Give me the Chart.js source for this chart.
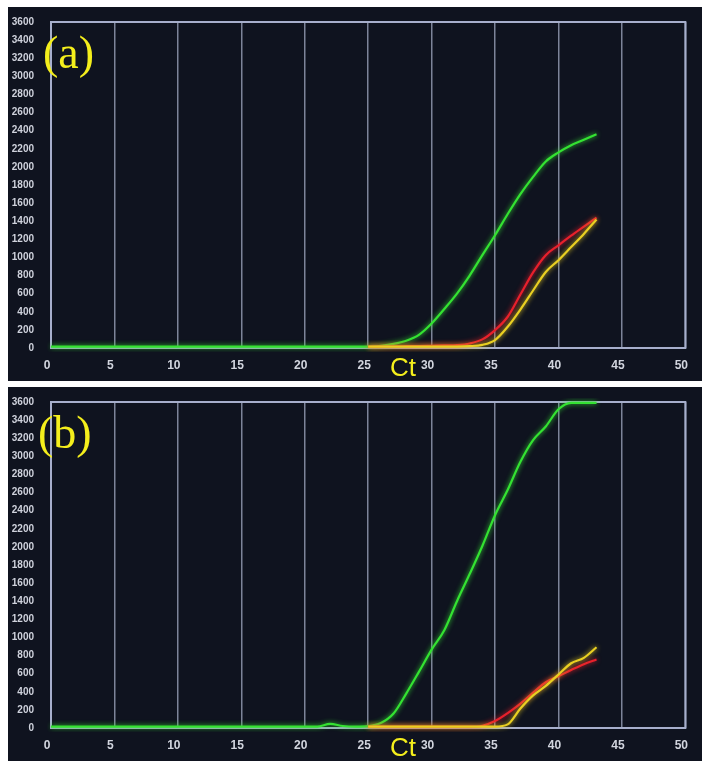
<!DOCTYPE html>
<html>
<head>
<meta charset="utf-8">
<script src="https://cdn.jsdelivr.net/npm/chart.js@4/dist/chart.umd.min.js"></script>
<style>
body{margin:0;background:#fff;width:716px;height:771px;position:relative;overflow:hidden;font-family:"Liberation Sans",Arial,sans-serif}
.panel{position:absolute;left:8px;width:694px;height:374px;background:#0f131f}
#pa{top:7px}
#pb{top:387px}
.panel canvas{position:absolute;left:0;top:0}
.tag{position:absolute;top:23px;color:#f4ee1c;font-family:"Liberation Serif","Times New Roman",serif;font-size:46px;line-height:1}
.ct{position:absolute;left:382px;top:347px;color:#f4ee1c;font-size:26px;line-height:1}
</style>
</head>
<body>
<div class="panel" id="pa"><canvas id="ca" width="694" height="374"></canvas><div class="tag" style="left:35px">(a)</div><div class="ct">Ct</div></div>
<div class="panel" id="pb"><canvas id="cb" width="694" height="374"></canvas><div class="tag" style="left:30px">(b)</div><div class="ct">Ct</div></div>
<script>
// cycle numbers
var cycles = [0,1,2,3,4,5,6,7,8,9,10,11,12,13,14,15,16,17,18,19,20,21,22,23,24,25,26,27,28,29,30,31,32,33,34,35,36,37,38,39,40,41,42,43];
var lateCycles = [25,26,27,28,29,30,31,32,33,34,35,36,37,38,39,40,41,42,43];

// panel (a)
var greenA = [15,15,15,15,15,15,15,15,15,15,15,15,15,15,15,15,15,15,15,15,15,15,15,15,15,15,25,45,80,145,270,430,600,800,1025,1245,1480,1700,1890,2060,2160,2240,2300,2360];
var redA = [15,15,18,20,22,25,28,32,50,95,198,345,590,835,1025,1134,1240,1340,1440];
var yellowA = [15,15,15,15,15,15,15,15,20,35,88,235,425,635,840,970,1115,1260,1420];

// panel (b)
var greenB = [15,15,15,15,15,15,15,15,15,15,15,15,15,15,15,15,15,15,15,15,15,15,45,22,15,20,55,160,380,620,866,1080,1400,1700,2010,2350,2630,2940,3180,3330,3520,3590,3590,3590];
var redB = [15,15,15,15,15,15,15,15,15,25,77,165,270,390,505,572,640,705,756];
var yellowB = [15,15,15,15,15,15,15,15,15,15,15,40,215,360,465,590,715,775,892];

var xTicks = [0,5,10,15,20,25,30,35,40,45,50];
var yMax = 3600;

function pts(xs, ys) {
  var out = [];
  for (var i = 0; i < xs.length; i++) {
    out.push({x: xs[i], y: ys[i]});
  }
  return out;
}

var frame = {
  id: 'frame',
  beforeDatasetsDraw: function(chart) {
    var a = chart.chartArea, ctx = chart.ctx;
    ctx.save();
    ctx.strokeStyle = '#a7afcc';
    ctx.lineWidth = 2;
    ctx.strokeRect(a.left, a.top, a.right - a.left, a.bottom - a.top);
    ctx.restore();
  }
};

var glow = {
  id: 'glow',
  beforeDatasetDraw: function(chart, args) {
    var ctx = chart.ctx;
    ctx.save();
    ctx.shadowColor = chart.data.datasets[args.index].borderColor;
    ctx.shadowBlur = 5;
  },
  afterDatasetDraw: function(chart) {
    chart.ctx.restore();
  }
};

function line(data, color) {
  return {data: data, borderColor: color, borderWidth: 2.2, pointRadius: 0, fill: false, cubicInterpolationMode: 'monotone', clip: 4};
}

function qpcr(id, green, red, yellow) {
  var canvas = document.getElementById(id);
  new Chart(canvas.getContext('2d'), {
    type: 'line',
    data: {
      datasets: [
        line(pts(lateCycles, yellow), '#e9cf22'),
        line(pts(lateCycles, red), '#e8202c'),
        line(pts(cycles, green), '#34e232')
      ]
    },
    options: {
      responsive: false,
      animation: false,
      layout: {padding: {top: 14, right: 11, left: 0, bottom: 0}},
      plugins: {legend: {display: false}, tooltip: {enabled: false}},
      scales: {
        x: {
          type: 'linear', min: 0, max: 50,
          afterBuildTicks: function(s) { s.ticks = xTicks.map(function(v) { return {value: v}; }); },
          afterFit: function(s) { s.height = 33; },
          grid: {color: '#7d8499', lineWidth: 1.5, drawTicks: false},
          border: {display: false},
          ticks: {color: '#d2d5de', font: {size: 12, weight: 'bold', family: 'Liberation Sans'}, padding: 10, labelOffset: -4, autoSkip: false, maxRotation: 0,
            callback: function(v) { return String(v); }}
        },
        y: {
          min: 0, max: yMax,
          afterFit: function(s) { s.width = 43; },
          grid: {display: false},
          border: {display: false},
          ticks: {stepSize: 200, color: '#cfd2dc', font: {size: 10, weight: 'bold', family: 'Liberation Sans'}, padding: 9, autoSkip: false,
            callback: function(v) { return String(v); }}
        }
      }
    },
    plugins: [frame, glow]
  });
}

window.onload = function() {
  qpcr('ca', greenA, redA, yellowA);
  qpcr('cb', greenB, redB, yellowB);
};
</script>
</body>
</html>
